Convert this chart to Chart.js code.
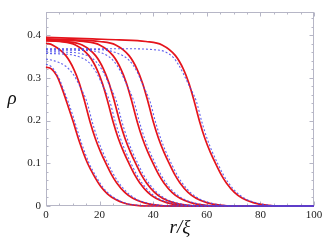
<!DOCTYPE html>
<html><head><meta charset="utf-8">
<style>html,body{margin:0;padding:0;background:#fff}#wrap{width:332px;height:242px;position:relative}</style>
<script src="https://cdn.jsdelivr.net/npm/chart.js@4.4.1/dist/chart.umd.min.js"></script>
</head><body><div id="wrap"><canvas id="c" width="332" height="242"></canvas></div>
<script>
const xTicks = [0, 20, 40, 60, 80, 100];
const yTicks = [0, 0.1, 0.2, 0.3, 0.4];
const xLabel = 'r/ξ';
const yLabel = 'ρ';

// red solid curves [r, rho]
const red1 = [[0,0.325],[2,0.321],[4,0.305],[5.2,0.288],[6.5,0.266],[8,0.238],[10,0.2],[12.5,0.15],[15.5,0.1],[18,0.07],[20.5,0.045],[23,0.028],[26,0.015],[29,0.007],[33,0.002],[38,0],[100,0]];
const red2 = [[0,0.381],[2.4,0.377],[7.4,0.352],[10.4,0.32],[12.4,0.288],[14.4,0.245],[16.4,0.198],[18.4,0.158],[20.4,0.126],[22.4,0.099],[24.4,0.074],[26.4,0.054],[29.4,0.032],[32.4,0.018],[36.4,0.008],[41.4,0.002],[46.4,0],[100,0]];
const red3 = [[0,0.387],[5,0.385],[11,0.377],[16,0.352],[19,0.32],[21,0.288],[23,0.245],[25,0.198],[27,0.158],[29,0.126],[31,0.099],[33,0.074],[35,0.054],[38,0.032],[41,0.018],[45,0.008],[50,0.002],[55,0],[100,0]];
const red4 = [[0,0.387],[7.5,0.385],[13.5,0.377],[18.5,0.352],[21.5,0.32],[23.5,0.288],[25.5,0.245],[27.5,0.198],[29.5,0.158],[31.5,0.126],[33.5,0.099],[35.5,0.074],[37.5,0.054],[40.5,0.032],[43.5,0.018],[47.5,0.008],[52.5,0.002],[57.5,0],[100,0]];
const red5 = [[0,0.39],[4,0.389],[14,0.385],[20,0.377],[25,0.352],[28,0.32],[30,0.288],[32,0.245],[34,0.198],[36,0.158],[38,0.126],[40,0.099],[42,0.074],[44,0.054],[47,0.032],[50,0.018],[54,0.008],[59,0.002],[64,0],[100,0]];
const red6 = [[0,0.391],[10,0.389],[20,0.385],[26,0.377],[31,0.352],[34,0.32],[36,0.288],[38,0.245],[40,0.198],[42,0.158],[44,0.126],[46,0.099],[48,0.074],[50,0.054],[53,0.032],[56,0.018],[60,0.008],[65,0.002],[70,0],[100,0]];
const red7 = [[0,0.395],[17.3,0.391],[27.3,0.389],[37.3,0.385],[43.3,0.377],[48.3,0.352],[51.3,0.32],[53.3,0.288],[55.3,0.245],[57.3,0.198],[59.3,0.158],[61.3,0.126],[63.3,0.099],[65.3,0.074],[67.3,0.054],[70.3,0.032],[73.3,0.018],[77.3,0.008],[82.3,0.002],[87.3,0],[100,0]];

// blue dashed curves [r, rho]
const blue1 = [[0,0.332],[2,0.326],[3.5,0.314],[5.2,0.294],[6.5,0.273],[8.5,0.24],[10.6,0.2],[13.1,0.15],[16.1,0.1],[18.6,0.07],[21.1,0.045],[23.6,0.028],[26.6,0.015],[29.6,0.007],[33.6,0.002],[38.6,0],[100,0]];
const blue2 = [[0,0.344],[2.4,0.341],[7.4,0.327],[10.4,0.306],[12.4,0.283],[15.2,0.245],[17.2,0.198],[19.2,0.158],[21.2,0.126],[23.2,0.099],[25.2,0.074],[27.2,0.054],[30.2,0.032],[33.2,0.018],[37.2,0.008],[42.2,0.002],[47.2,0],[100,0]];
const blue3 = [[0,0.357],[5,0.356],[11,0.352],[16,0.336],[19,0.31],[21,0.284],[23.8,0.245],[25.8,0.198],[27.8,0.158],[29.8,0.126],[31.8,0.099],[33.8,0.074],[35.8,0.054],[38.8,0.032],[41.8,0.018],[45.8,0.008],[50.8,0.002],[55.8,0],[100,0]];
const blue4 = [[0,0.361],[7.5,0.36],[13.5,0.356],[18.5,0.339],[21.5,0.312],[23.5,0.285],[26.3,0.245],[28.3,0.198],[30.3,0.158],[32.3,0.126],[34.3,0.099],[36.3,0.074],[38.3,0.054],[41.3,0.032],[44.3,0.018],[48.3,0.008],[53.3,0.002],[58.3,0],[100,0]];
const blue5 = [[0,0.365],[14,0.364],[20,0.36],[25,0.341],[28,0.313],[30,0.285],[32.8,0.245],[34.8,0.198],[36.8,0.158],[38.8,0.126],[40.8,0.099],[42.8,0.074],[44.8,0.054],[47.8,0.032],[50.8,0.018],[54.8,0.008],[59.8,0.002],[64.8,0],[100,0]];
const blue6 = [[0,0.367],[20,0.366],[26,0.359],[31,0.341],[34,0.314],[36,0.285],[38.8,0.245],[40.8,0.198],[42.8,0.158],[44.8,0.126],[46.8,0.099],[48.8,0.074],[50.8,0.054],[53.8,0.032],[56.8,0.018],[60.8,0.008],[65.8,0.002],[70.8,0],[100,0]];
const blue7 = [[0,0.368],[30,0.368],[40,0.366],[44,0.362],[47.6,0.347],[49.5,0.33],[51.3,0.309],[53.3,0.283],[56.1,0.245],[58.1,0.198],[60.1,0.158],[62.1,0.126],[64.1,0.099],[66.1,0.074],[68.1,0.054],[71.1,0.032],[74.1,0.018],[78.1,0.008],[83.1,0.002],[88.1,0],[100,0]];

const redSeries = [red1, red2, red3, red4, red5, red6, red7];
const blueSeries = [blue1, blue2, blue3, blue4, blue5, blue6, blue7];

const toPts = arr => arr.map(p => ({x: p[0], y: p[1]}));
const datasets = [];
blueSeries.forEach(s => datasets.push({data: toPts(s), borderColor: 'rgba(70,70,235,0.85)', borderWidth: 1.1, borderDash: [2, 2], pointRadius: 0, cubicInterpolationMode: 'monotone', clip: false}));
redSeries.forEach(s => datasets.push({data: toPts(s), borderColor: '#e5141c', borderWidth: 1.7, pointRadius: 0, cubicInterpolationMode: 'monotone', clip: false}));

const FRAME = '#b6b6c6';
const framePlugin = {
  id: 'frame',
  beforeDatasetsDraw(chart) {
    const {ctx, chartArea: a, scales: {x, y}} = chart;
    ctx.save();
    ctx.strokeStyle = FRAME; ctx.lineWidth = 1;
    const L = Math.round(a.left) + 0.5, R = Math.round(a.right) - 0.5, T = Math.round(a.top) + 0.5, B = Math.round(a.bottom) - 0.5;
    ctx.strokeRect(L, T, R - L, B - T);
    ctx.beginPath();
    for (let v = 0; v <= 100.001; v += 5) {
      const px = Math.round(x.getPixelForValue(v)) + 0.5;
      const len = (Math.abs(v % 20) < 0.01) ? 4 : 2;
      ctx.moveTo(px, B); ctx.lineTo(px, B - len);
      ctx.moveTo(px, T); ctx.lineTo(px, T + len);
    }
    for (let v = 0; v <= 0.455; v += 0.02) {
      const py = Math.round(y.getPixelForValue(v)) + 0.5;
      const major = Math.abs(v * 10 - Math.round(v * 10)) < 0.01;
      const len = major ? 4 : 2;
      ctx.moveTo(L, py); ctx.lineTo(L + len, py);
      ctx.moveTo(R, py); ctx.lineTo(R - len, py);
    }
    ctx.stroke();
    ctx.restore();
  },
  afterDraw(chart) {
    const {ctx} = chart;
    ctx.save();
    ctx.fillStyle = '#111';
    ctx.font = 'italic 19px "Liberation Serif"';
    ctx.textAlign = 'center';
    ctx.textBaseline = 'alphabetic';
    ctx.fillText(yLabel, 12, 104);
    ctx.restore();
  }
};

new Chart(document.getElementById('c'), {
  type: 'line',
  data: {datasets},
  options: {
    responsive: false,
    devicePixelRatio: 1,
    animation: false,
    events: [],
    layout: {padding: {left: 0, right: 18, top: 6, bottom: 0}},
    plugins: {legend: {display: false}, tooltip: {enabled: false}},
    scales: {
      x: {
        type: 'linear', min: 0, max: 100,
        grid: {display: false, drawTicks: false, tickLength: 0}, border: {display: false},
        ticks: {stepSize: 20, includeBounds: false, padding: 3, color: '#222', font: {family: 'Liberation Serif', size: 11}, maxRotation: 0},
        afterBuildTicks: s => { s.ticks = xTicks.map(v => ({value: v})); },
        title: {display: true, text: xLabel, color: '#111', font: {family: 'Liberation Serif', style: 'italic', size: 19}, padding: {top: 0, bottom: 3}},
        afterFit: s => { s.height = 36; }
      },
      y: {
        type: 'linear', min: 0, max: 0.455,
        grid: {display: false, drawTicks: false, tickLength: 0}, border: {display: false},
        ticks: {stepSize: 0.1, includeBounds: false, padding: 5, color: '#222', font: {family: 'Liberation Serif', size: 11}},
        afterBuildTicks: s => { s.ticks = yTicks.map(v => ({value: v})); },
        afterFit: s => { s.width = 46; }
      }
    }
  },
  plugins: [framePlugin]
});
</script>
</body></html>
